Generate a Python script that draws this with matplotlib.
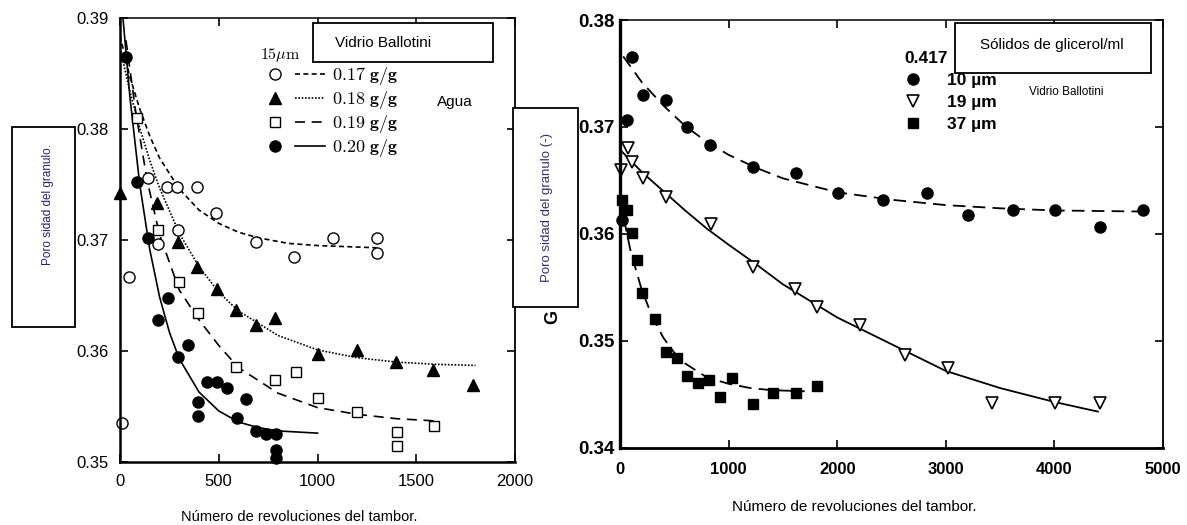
import matplotlib.pyplot as plt
import matplotlib.patches as patches
from matplotlib.lines import Line2D
from matplotlib.legend_handler import HandlerTuple

plt.rcParams['font.family'] = ['Liberation Sans', 'DejaVu Sans']
plt.rcParams['mathtext.fontset'] = 'cm'

# ---------------- panel izquierdo: agua, vidrio ballotini 15 um ----------------
x_017 = [10, 46, 142, 193, 239, 290, 294, 391, 487, 690, 880, 1076, 1300, 1300]
y_017 = [0.3535, 0.3667, 0.3756, 0.3696, 0.3748, 0.3748, 0.3709, 0.3748, 0.3724,
         0.3698, 0.3685, 0.3702, 0.3702, 0.3688]
x_018 = [0, 188, 294, 391, 492, 589, 690, 787, 1000, 1198, 1396, 1584, 1787]
y_018 = [0.3742, 0.3733, 0.3698, 0.3676, 0.3656, 0.3637, 0.3623, 0.3630, 0.3597,
         0.3601, 0.3590, 0.3583, 0.3569]
x_019 = [86, 193, 299, 396, 589, 787, 893, 1000, 1198, 1401, 1401, 1589]
y_019 = [0.3810, 0.3709, 0.3662, 0.3634, 0.3586, 0.3574, 0.3581, 0.3558, 0.3545,
         0.3527, 0.3514, 0.3532]
x_020 = [30, 86, 142, 193, 244, 294, 345, 396, 396, 442, 492, 543, 594, 640, 690,
         741, 792, 792, 792]
y_020 = [0.3865, 0.3752, 0.3702, 0.3628, 0.3648, 0.3595, 0.3605, 0.3554, 0.3541,
         0.3572, 0.3572, 0.3567, 0.3540, 0.3557, 0.3528, 0.3525, 0.3525, 0.3511, 0.3504]

# curvas de ajuste
fx_017 = [0, 50, 100, 150, 200, 300, 400, 500, 600, 700, 850, 1000, 1300]
fy_017 = [0.3884, 0.3847, 0.3818, 0.3794, 0.3774, 0.3746, 0.3727, 0.3715, 0.3707,
          0.3702, 0.3697, 0.3695, 0.3693]
fx_018 = [0, 50, 100, 150, 200, 300, 400, 500, 600, 800, 1000, 1200, 1400, 1600, 1800]
fy_018 = [0.3873, 0.3834, 0.3801, 0.3772, 0.3747, 0.3706, 0.3676, 0.3653, 0.3636,
          0.3614, 0.3601, 0.3594, 0.3590, 0.3588, 0.3587]
fx_019 = [30, 80, 137, 200, 300, 400, 500, 600, 800, 1000, 1200, 1400, 1600]
fy_019 = [0.3880, 0.3815, 0.3754, 0.3705, 0.3655, 0.3628, 0.3605, 0.3585, 0.3562,
          0.3549, 0.3543, 0.3539, 0.3537]
fx_020 = [15, 50, 100, 150, 200, 250, 300, 400, 500, 600, 700, 800, 1000]
fy_020 = [0.3900, 0.3829, 0.3750, 0.3692, 0.3649, 0.3617, 0.3593, 0.3563, 0.3546,
          0.3536, 0.3531, 0.3528, 0.3526]

# ---------------- panel derecho: 0.417 ml glicerol ----------------
x_10 = [18, 64, 110, 212, 424, 617, 829, 1225, 1621, 2007, 2422, 2827, 3204, 3619,
        4006, 4420, 4816]
y_10 = [0.3613, 0.3707, 0.3765, 0.3730, 0.3725, 0.3700, 0.3683, 0.3663, 0.3657,
        0.3638, 0.3632, 0.3638, 0.3618, 0.3622, 0.3622, 0.3607, 0.3622]
x_19 = [9, 74, 110, 212, 424, 838, 1225, 1612, 1814, 2210, 2624, 3020, 3425, 4006, 4420]
y_19 = [0.3660, 0.3680, 0.3667, 0.3652, 0.3635, 0.3609, 0.3569, 0.3549, 0.3532,
        0.3515, 0.3487, 0.3475, 0.3442, 0.3442, 0.3442]
x_37 = [18, 64, 110, 157, 203, 322, 424, 525, 617, 718, 820, 921, 1031, 1225, 1409,
        1621, 1814]
y_37 = [0.3632, 0.3622, 0.3601, 0.3576, 0.3545, 0.3521, 0.3490, 0.3484, 0.3467,
        0.3461, 0.3464, 0.3448, 0.3465, 0.3441, 0.3451, 0.3451, 0.3458]

fx_10 = [30, 200, 400, 600, 800, 1000, 1250, 1500, 2000, 2500, 3000, 3500, 4000, 4800]
fy_10 = [0.3766, 0.3742, 0.3720, 0.3701, 0.3686, 0.3674, 0.3662, 0.3652, 0.3639,
         0.3632, 0.3627, 0.3624, 0.3622, 0.3621]
fx_19 = [18, 200, 400, 600, 800, 1000, 1250, 1500, 2000, 2500, 3000, 3500, 4000, 4400]
fy_19 = [0.3677, 0.3658, 0.3640, 0.3622, 0.3605, 0.3590, 0.3572, 0.3553, 0.3522,
         0.3497, 0.3472, 0.3456, 0.3443, 0.3434]
fx_37 = [0, 100, 200, 300, 400, 500, 600, 800, 1000, 1200, 1400, 1700]
fy_37 = [0.3632, 0.3583, 0.3548, 0.3522, 0.3503, 0.3489, 0.3479, 0.3466, 0.3460,
         0.3456, 0.3454, 0.3453]

left_xticks = [0, 500, 1000, 1500, 2000]
left_yticks = [0.35, 0.36, 0.37, 0.38, 0.39]
right_xticks = [0, 1000, 2000, 3000, 4000, 5000]
right_yticks = [0.34, 0.35, 0.36, 0.37, 0.38]


def style_axes(ax, lw_left, lw_bottom):
    ax.spines['left'].set_linewidth(lw_left)
    ax.spines['bottom'].set_linewidth(lw_bottom)
    ax.spines['top'].set_linewidth(1.1)
    ax.spines['right'].set_linewidth(1.3)
    ax.tick_params(direction='in', top=True, right=True, length=6, width=1.2)


fig = plt.figure(figsize=(11.87, 5.25), dpi=100)

# ======== izquierda ========
ax1 = fig.add_axes([0.1011, 0.12, 0.3328, 0.8457])
k = dict(color='black', lw=1.2)
ax1.plot(fx_017, fy_017, ls=(0, (3, 2)), **k)
ax1.plot(fx_018, fy_018, ls=(0, (1, 1)), **k)
ax1.plot(fx_019, fy_019, ls=(0, (6, 4)), **k)
ax1.plot(fx_020, fy_020, ls='-', **k)
ax1.plot(x_017, y_017, 'o', ms=8, mfc='white', mec='black', mew=1.0, clip_on=False)
ax1.plot(x_018, y_018, '^', ms=8, color='black', clip_on=False)
ax1.plot(x_019, y_019, 's', ms=7.5, mfc='white', mec='black', mew=1.0, clip_on=False)
ax1.plot(x_020, y_020, 'o', ms=8, color='black', clip_on=False)
ax1.set_xlim(0, 2000)
ax1.set_ylim(0.35, 0.39)
ax1.set_xticks(left_xticks)
ax1.set_yticks(left_yticks)
ax1.set_yticklabels([f'{v:.2f}' for v in left_yticks])
ax1.tick_params(axis='both', labelsize=12)
ax1.tick_params(axis='x', pad=9)
ax1.tick_params(axis='y', pad=8)
style_axes(ax1, 1.8, 1.8)

labels_left = [r'$0.17\ \mathbf{g/g}$', r'$0.18\ \mathbf{g/g}$',
               r'$0.19\ \mathbf{g/g}$', r'$0.20\ \mathbf{g/g}$']
mk = [Line2D([], [], marker='o', ls='none', ms=8, mfc='white', mec='black'),
      Line2D([], [], marker='^', ls='none', ms=8, color='black'),
      Line2D([], [], marker='s', ls='none', ms=7.5, mfc='white', mec='black'),
      Line2D([], [], marker='o', ls='none', ms=8, color='black')]
ln = [Line2D([], [], color='black', lw=1.2, ls=(0, (3, 2))),
      Line2D([], [], color='black', lw=1.2, ls=(0, (1, 1))),
      Line2D([], [], color='black', lw=1.2, ls=(0, (6, 4))),
      Line2D([], [], color='black', lw=1.2, ls='-')]
leg1 = ax1.legend([(m, l) for m, l in zip(mk, ln)], labels_left,
                  handler_map={tuple: HandlerTuple(ndivide=None, pad=0.3)},
                  title=r'$15\mu\mathrm{m}$', title_fontsize=11.5, fontsize=13,
                  frameon=False, handlelength=3.6, handletextpad=0.35,
                  labelspacing=0.1, borderpad=0, alignment='left',
                  loc='upper left', bbox_to_anchor=(0.332, 0.958))

# ======== derecha ========
ax2 = fig.add_axes([0.5223, 0.1467, 0.4575, 0.8152])
ax2.plot(fx_10, fy_10, color='black', lw=1.3, ls=(0, (7, 4)))
ax2.plot(fx_19, fy_19, color='black', lw=1.3, ls='-')
ax2.plot(fx_37, fy_37, color='black', lw=1.3, ls=(0, (7, 4)))
p10, = ax2.plot(x_10, y_10, 'o', ms=8, color='black', clip_on=False)
p19, = ax2.plot(x_19, y_19, 'v', ms=8.5, mfc='white', mec='black', mew=1.2, clip_on=False)
p37, = ax2.plot(x_37, y_37, 's', ms=7.5, color='black', clip_on=False)
ax2.set_xlim(0, 5000)
ax2.set_ylim(0.34, 0.38)
ax2.set_xticks(right_xticks)
ax2.set_yticks(right_yticks)
ax2.set_yticklabels([f'{v:.2f}' for v in right_yticks])
ax2.tick_params(axis='x', labelsize=12, pad=10)
ax2.tick_params(axis='y', labelsize=13.5, pad=4)
for t in ax2.get_xticklabels() + ax2.get_yticklabels():
    t.set_fontweight('bold')
style_axes(ax2, 2.4, 2.0)

leg2 = ax2.legend([p10, p19, p37], ['10 µm', '19 µm', '37 µm'],
                  title='0.417', title_fontsize=12.5,
                  prop={'weight': 'bold', 'size': 12.5},
                  frameon=False, handlelength=1.0, handletextpad=1.45,
                  labelspacing=0.4, borderpad=0, alignment='left',
                  loc='upper left', bbox_to_anchor=(0.508, 0.948))
leg2.get_title().set_fontweight('bold')

# ======== recuadros superpuestos ========
def box(x0, y0, w, h):
    fig.add_artist(patches.Rectangle((x0, y0), w, h, transform=fig.transFigure,
                                     facecolor='white', edgecolor='black',
                                     lw=1.3, zorder=5))

box(0.0101, 0.3771, 0.0531, 0.381)
fig.text(0.0404, 0.6114, 'Poro sidad del granulo.', rotation=90, fontsize=8.5,
         color='#22226e', ha='center', va='center', zorder=6)

box(0.2637, 0.8819, 0.1516, 0.0743)
fig.text(0.2822, 0.918, 'Vidrio Ballotini', fontsize=11, ha='left', va='center', zorder=6)
fig.text(0.3682, 0.8057, 'Agua', fontsize=11, ha='left', va='center', zorder=6)

box(0.4322, 0.4152, 0.0548, 0.379)
fig.text(0.4608, 0.6057, 'Poro sidad del granulo (-)', rotation=90, fontsize=9.5,
         color='#3a2a6a', ha='center', va='center', zorder=6)
fig.text(0.4659, 0.3962, 'G', rotation=90, fontsize=13, fontweight='bold',
         ha='center', va='center', zorder=6)

box(0.8045, 0.861, 0.1651, 0.0952)
fig.text(0.8863, 0.9143, 'Sólidos de glicerol/ml', fontsize=11, ha='center',
         va='center', zorder=6)
fig.text(0.898, 0.8248, 'Vidrio Ballotini', fontsize=8.5, ha='center', va='center', zorder=6)

fig.text(0.1525, 0.0152, 'Número de revoluciones del tambor.', fontsize=10.5,
         ha='left', va='center')
fig.text(0.6167, 0.0343, 'Número de revoluciones del tambor.', fontsize=11,
         ha='left', va='center')

fig.savefig('out.png', dpi=100)
